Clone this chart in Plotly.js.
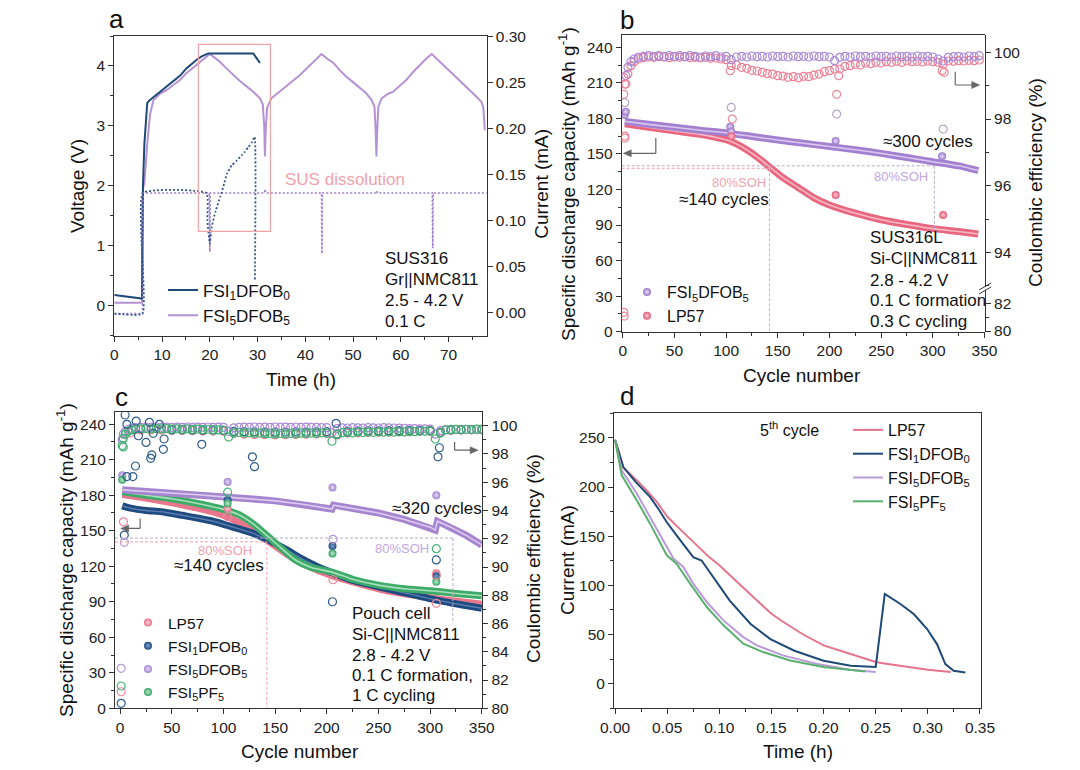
<!DOCTYPE html>
<html><head><meta charset="utf-8">
<script src="https://cdn.plot.ly/plotly-3.0.1.min.js"></script>
<style>html,body{margin:0;padding:0;background:#fff}#chart{width:1080px;height:770px}</style>
</head><body><div id="chart"></div>
<script>
// ---------------- Panel a ----------------
const a_t_fsi1 = [0, 2, 4, 5.8, 6.0, 6.3, 6.9, 7.3, 8.5, 9.6, 11, 12.4, 13.8, 15.1, 16.2, 17.2, 18.3, 19.3, 19.7, 24, 29.1, 29.8, 30.5];
const a_v_fsi1 = [0.18, 0.16, 0.14, 0.12, 2.0, 2.7, 3.38, 3.42, 3.5, 3.57, 3.65, 3.74, 3.84, 3.96, 4.04, 4.1, 4.16, 4.2, 4.21, 4.21, 4.21, 4.13, 4.05];
const a_t_fsi5 = [0, 5.8, 6.0, 6.3, 6.9, 7.5, 8.2, 9.6, 11, 12.4, 13.8, 15.1, 16.5, 17.9, 19, 20, 21, 22.1, 23.5, 24.9, 26.3, 27.7, 29.1, 30.5, 31.1, 31.4, 31.55, 31.7, 32.0, 32.9, 34.5, 36.1, 37.5, 38.9, 40.3, 41.7, 42.6, 43.4, 44.6, 45.9, 47.2, 48.6, 50, 51.4, 52.7, 53.9, 54.5, 54.75, 54.9, 55.05, 55.3, 56, 57.2, 58.4, 59.8, 61.2, 62.6, 64, 65.3, 66.5, 67.7, 68.9, 70.3, 71.7, 73.1, 74.5, 75.7, 76.9, 77.3, 77.6];
const a_v_fsi5 = [0.05, 0.05, 1.95, 2.05, 2.7, 3.2, 3.43, 3.54, 3.6, 3.68, 3.77, 3.88, 3.97, 4.07, 4.14, 4.2, 4.14, 4.07, 3.96, 3.85, 3.75, 3.66, 3.57, 3.46, 3.36, 3.0, 2.49, 2.9, 3.3, 3.46, 3.56, 3.66, 3.75, 3.85, 3.96, 4.07, 4.14, 4.2, 4.12, 4.05, 3.93, 3.82, 3.73, 3.64, 3.55, 3.43, 3.32, 2.9, 2.49, 2.9, 3.32, 3.46, 3.53, 3.57, 3.67, 3.77, 3.9, 4.02, 4.12, 4.2, 4.11, 4.02, 3.91, 3.8, 3.7, 3.6, 3.5, 3.4, 3.3, 2.93];
const a_t_i5 = [0, 5.9, 6.0, 19.9, 20.0, 20.1, 31.5, 31.6, 31.7, 43.4, 43.5, 43.6, 54.9, 55.0, 55.1, 66.6, 66.7, 66.8, 78];
const a_i5 = [-0.001, -0.001, 0.13, 0.13, 0.066, 0.13, 0.13, 0.134, 0.13, 0.13, 0.064, 0.13, 0.13, 0.132, 0.13, 0.13, 0.07, 0.13, 0.13];
const a_t_i1 = [0, 5.9, 6.0, 19.3, 19.5, 20.0, 20.4, 21.2, 22.2, 23.0, 23.6, 24.6, 25.6, 26.7, 27.4, 28.1, 28.8, 29.4, 29.45];
const a_i1 = [-0.001, -0.001, 0.13, 0.13, 0.10, 0.075, 0.093, 0.11, 0.126, 0.14, 0.151, 0.16, 0.165, 0.171, 0.175, 0.18, 0.185, 0.191, 0.0355];

// ---------------- Panel b ----------------
const b_cyc_fd = [2, 25, 50, 75, 100, 125, 150, 175, 200, 225, 250, 275, 300, 325, 344];
const b_cap_fd = [177.5, 175, 172.5, 170, 167.8, 164.8, 161.8, 159, 156.3, 153.5, 150.5, 147, 143.5, 140, 136];
const b_cyc_lp = [2, 25, 50, 75, 90, 100, 110, 120, 130, 142, 155, 170, 185, 200, 225, 250, 275, 300, 325, 344];
const b_cap_lp = [175.5, 172.5, 169.5, 166.5, 164, 162, 158.5, 153.5, 147.5, 139, 130, 121.5, 113, 107, 100, 94.5, 90.5, 87, 84.5, 82.5];
const b_out_fd_cyc = [2, 3, 104, 105, 206, 309];
const b_out_fd_cap = [182.8, 185.7, 173, 169, 161, 148];
const b_out_lp_cyc = [105, 206, 310];
const b_out_lp_cap = [165, 115.4, 98.5];
const b_ce_cyc = [3,5,8,11,15,20,25,30,35,40,45,50,55,60,65,70,75,80,85,90,95,100,105,110,115,120,125,130,135,140,145,150,155,160,165,170,175,180,185,190,195,200,205,210,215,220,225,230,235,240,245,250,255,260,265,270,275,280,285,290,295,300,305,310,315,320,325,330,335,340,345];
const b_ce_fd = [99.3, 99.55, 99.72, 99.8, 99.85,
 99.88, 99.9, 99.88, 99.9, 99.87, 99.9, 99.88, 99.9, 99.87, 99.9, 99.88, 99.86, 99.89, 99.87, 99.9, 99.86, 99.88,
 99.78, 99.86, 99.88, 99.86, 99.89, 99.87, 99.88, 99.86, 99.89, 99.87, 99.88, 99.86, 99.89, 99.87, 99.88, 99.86, 99.89, 99.87, 99.88, 99.86,
 99.75, 99.85, 99.88, 99.86, 99.89, 99.87, 99.88, 99.86, 99.89, 99.87, 99.88, 99.86, 99.89, 99.87, 99.88, 99.86, 99.89, 99.87, 99.88, 99.86,
 99.8, 99.74, 99.85, 99.87, 99.88, 99.86, 99.89, 99.87, 99.9];
const b_ce_lp = [99.05, 99.35, 99.6, 99.72, 99.8,
 99.84, 99.86, 99.85, 99.87, 99.86, 99.84, 99.86, 99.85, 99.87, 99.84, 99.85, 99.83, 99.85, 99.82, 99.83, 99.8, 99.78,
 99.6, 99.62, 99.55, 99.52, 99.46, 99.44, 99.4, 99.36, 99.35, 99.3, 99.29, 99.25, 99.27, 99.24, 99.28, 99.27, 99.32, 99.35, 99.42, 99.45,
 99.5, 99.5, 99.58, 99.6, 99.64, 99.62, 99.68, 99.66, 99.7, 99.68, 99.72, 99.7, 99.73, 99.7, 99.74, 99.72, 99.73, 99.71, 99.74, 99.72,
 99.7, 99.65, 99.74, 99.73, 99.75, 99.74, 99.76, 99.75, 99.77];
const b_ceout_lp_cyc = [1, 1, 2, 2, 2, 104, 106, 207, 209, 309, 311];
const b_ceout_lp = [99.25, 98.74, 99.05, 97.49, 97.43, 99.45, 98.0, 98.74, 99.3, 99.45, 99.4];
const b_ceout_fd_cyc = [2, 105, 207, 310];
const b_ceout_fd = [98.49, 98.35, 98.15, 97.7];
const b_celow_cyc = [1, 1.5];
const b_celow = [81.35, 81.08];

// ---------------- Panel c ----------------
const c_cyc_fd = [2, 25, 50, 75, 100, 125, 150, 175, 200, 205, 206.5, 225, 250, 275, 300, 305, 307, 320, 335, 350];
const c_cap_fd = [184.5, 183.3, 182, 180.3, 178.6, 177, 175.2, 172.5, 169.3, 168.3, 171.6, 169, 165, 159.5, 153, 150.5, 158, 153, 146, 138];
const c_cyc_pf = [2, 25, 50, 75, 100, 115, 130, 142, 155, 170, 185, 205, 225, 250, 275, 300, 325, 350];
const c_cap_pf = [182.8, 180, 177, 173, 168, 163.5, 155, 146, 136, 125, 119, 115, 109, 104, 101, 99.3, 97, 95];
const c_cyc_f1 = [2, 10, 25, 40, 60, 77, 90, 103, 115, 129, 140, 150, 163, 175, 190, 205, 225, 250, 275, 306, 330, 350];
const c_cap_f1 = [171, 169, 167, 166, 163, 160.3, 158, 154.7, 151.5, 147.7, 143.5, 139.2, 133, 126.6, 120, 114.5, 108, 102.6, 97.5, 91.4, 87.5, 84.5];
const c_cyc_lp = [2, 25, 50, 75, 100, 125, 142, 160, 180, 205, 250, 300, 350];
const c_cap_lp = [180.5, 177.5, 173.5, 169, 163, 152, 142, 131, 121, 112, 101, 93.5, 88];
const c_out_fd_cyc = [2, 104, 205.5, 306], c_out_fd = [196.9, 191.2, 186.5, 180];
const c_out_pf_cyc = [2, 104, 205.5, 306], c_out_pf = [193, 173, 130.8, 106.8];
const c_out_f1_cyc = [104, 205.5, 306], c_out_f1 = [175.8, 137, 111.6];
const c_out_lp_cyc = [104, 306], c_out_lp = [168.8, 114];
const c_ce_cyc = [2,3,5,8,11,15,20,25,30,35,40,45,50,55,60,65,70,75,80,85,90,95,100,105,110,115,120,125,130,135,140,145,150,155,160,165,170,175,180,185,190,195,200,205,210,215,220,225,230,235,240,245,250,255,260,265,270,275,280,285,290,295,300,305,310,315,320,325,330,335,340,345,350];
const c_ce_pf = [98.6, 99.1, 99.4, 99.6, 99.7, 99.75,
 99.78, 99.8, 99.78, 99.8, 99.77, 99.79, 99.76, 99.78, 99.75, 99.77, 99.74, 99.76, 99.73, 99.75, 99.72, 99.7, 99.68,
 99.2, 99.5, 99.52, 99.48, 99.5, 99.46, 99.48, 99.44, 99.46, 99.42, 99.45, 99.43, 99.46, 99.44, 99.47, 99.45, 99.48, 99.46, 99.5, 99.48,
 98.9, 99.4, 99.5, 99.52, 99.5, 99.54, 99.52, 99.55, 99.53, 99.56, 99.54, 99.57, 99.55, 99.58, 99.56, 99.6, 99.58, 99.61, 99.6, 99.62,
 99.06, 99.5, 99.7, 99.72, 99.74, 99.72, 99.75, 99.73, 99.76, 99.75];
const c_ce_fd = [99.0, 99.4, 99.6, 99.75, 99.82, 99.86,
 99.88, 99.9, 99.88, 99.91, 99.89, 99.9, 99.88, 99.9, 99.89, 99.91, 99.88, 99.9, 99.89, 99.91, 99.88, 99.9, 99.89,
 99.6, 99.85, 99.88, 99.9, 99.89, 99.91, 99.88, 99.9, 99.89, 99.91, 99.88, 99.9, 99.89, 99.91, 99.88, 99.9, 99.89, 99.88, 99.87, 99.86,
 99.5, 99.8, 99.85, 99.84, 99.86, 99.85, 99.84, 99.86, 99.85, 99.84, 99.86, 99.85, 99.84, 99.83, 99.82, 99.8, 99.8, 99.78, 99.78, 99.76,
 99.4, 99.65, 99.72, 99.74, 99.72, 99.75, 99.73, 99.74, 99.72, 99.73];
const c_ce_cyc_lp = [10,20,30,40,50,60,70,80,90,100,110,120,130,140,150,160,170,180,190,200,210,220,230,240,250,260,270,280,290,300,310,320,330,340,350];
const c_ce_lp = [99.5, 99.7, 99.72, 99.7, 99.68, 99.66, 99.65, 99.63, 99.62, 99.6, 99.45, 99.4, 99.38, 99.36, 99.35, 99.36, 99.38, 99.4, 99.42, 99.44, 99.35, 99.48, 99.5, 99.52, 99.54, 99.55, 99.56, 99.58, 99.6, 99.6, 99.55, 99.68, 99.7, 99.72, 99.72];
const c_ce_cyc_f1 = [50,60,70,80,90,100,110,120,130,140,150,160,170,180,190,200,210,220,230,240,250,260,270,280,290,300,310,320,330,340,350];
const c_ce_f1 = [99.7, 99.72, 99.7, 99.68, 99.7, 99.68, 99.6, 99.58, 99.56, 99.55, 99.54, 99.55, 99.56, 99.55, 99.57, 99.58, 99.4, 99.6, 99.62, 99.63, 99.64, 99.65, 99.66, 99.67, 99.68, 99.66, 99.5, 99.7, 99.72, 99.73, 99.74];
const c_ceout_f1_cyc = [1, 4.8, 6.5, 15.5, 17.7, 25, 28.3, 30.6, 29.6, 32, 38, 42.5, 41.8, 14.8, 6.5, 12.3, 79, 128, 130, 209, 307.6, 309, 4, 205.5, 306];
const c_ceout_f1 = [80.35, 100.76, 100.1, 100.33, 99.29, 98.82, 100.24, 97.93, 97.69, 99.46, 100.1, 99.06, 98.33, 97.15, 96.4, 96.4, 98.68, 97.8, 97.1, 100.17, 97.8, 98.44, 92.26, 87.54, 90.5];
const c_ceout_lp_cyc = [1, 3.2, 104, 206, 306, 306], c_ceout_lp = [81.17, 93.2, 93.56, 89.1, 89.43, 87.43];
const c_ceout_fd_cyc = [1, 4, 206], c_ceout_fd = [82.83, 91.75, 91.96];
const c_ceout_pf_cyc = [1, 3, 104, 306], c_ceout_pf = [81.58, 98.5, 95.3, 91.3];

// ---------------- Panel d ----------------
const d_t_lp = [0, 0.008, 0.0207, 0.03, 0.04, 0.05, 0.06, 0.07, 0.08, 0.09, 0.1, 0.11, 0.12, 0.13, 0.14, 0.15, 0.16, 0.18, 0.2, 0.22, 0.25, 0.26, 0.28, 0.3, 0.322];
const d_i_lp = [248, 220, 207, 197, 185, 170, 159.5, 149.3, 139, 129, 120.5, 110.4, 100, 90, 80.8, 71.2, 63.8, 50.3, 39, 32.3, 22.1, 20.4, 17, 14.3, 12];
const d_t_f1 = [0, 0.008, 0.02, 0.0335, 0.0415, 0.0495, 0.059, 0.075, 0.083, 0.094, 0.11, 0.13, 0.149, 0.172, 0.2, 0.226, 0.25, 0.2587, 0.2737, 0.2865, 0.2993, 0.3088, 0.3168, 0.3248, 0.336];
const d_i_f1 = [248, 220, 205, 190, 178, 164.4, 150.8, 128.7, 125.3, 108.3, 84.5, 60.7, 45.4, 33.5, 23.3, 18.2, 17.1, 91.3, 81.1, 70.9, 55.6, 40.3, 19.9, 13.1, 11.4];
const d_t_fd = [0, 0.0064, 0.0208, 0.0336, 0.0464, 0.056, 0.0655, 0.075, 0.088, 0.104, 0.123, 0.136, 0.161, 0.193, 0.225, 0.25];
const d_i_fd = [248, 217, 193.4, 169.7, 145.9, 127.3, 118.8, 101.8, 83.1, 64.4, 47.4, 39, 28.8, 20.4, 14.3, 11.9];
const d_t_pf = [0, 0.0064, 0.0208, 0.0336, 0.0496, 0.059, 0.072, 0.088, 0.104, 0.123, 0.142, 0.168, 0.2, 0.24];
const d_i_pf = [248, 211.9, 186.6, 162.8, 130.6, 122.1, 101.8, 78, 59.4, 40.7, 32.2, 23.7, 16.9, 12.5];

// ---------------- styling ----------------
const FONT = 'Liberation Sans, Arial, Helvetica, sans-serif';
const W = 1080, H = 770;
const fx = p => p / W, fy = p => 1 - p / H;
const NAVY = '#1f4a77', LAV = '#b592d3', PURP = '#a585cf', PINK = '#e8718a', GREEN = '#45ad6c';
const N_LP57 = 'LP57', N_F1 = 'FSI<sub>1</sub>DFOB<sub>0</sub>', N_FD = 'FSI<sub>5</sub>DFOB<sub>5</sub>', N_PF = 'FSI<sub>5</sub>PF<sub>5</sub>';

const traces = [];
function line(x, y, xa, ya, color, width, extra) {
  return Object.assign({x, y, xaxis: xa, yaxis: ya, type: 'scatter', mode: 'lines', line: {color, width}, showlegend: false, hoverinfo: 'skip'}, extra || {});
}
function rings(x, y, xa, ya, color, extra) {
  return Object.assign({x, y, xaxis: xa, yaxis: ya, type: 'scatter', mode: 'markers', marker: {symbol: 'circle-open', size: 8, color, line: {width: 1.2, color}}, showlegend: false, hoverinfo: 'skip'}, extra || {});
}
function spheres(x, y, xa, ya, color, light, extra) {
  return Object.assign({x, y, xaxis: xa, yaxis: ya, type: 'scatter', mode: 'markers', marker: {symbol: 'circle', size: 8, color, gradient: {type: 'radial', color: light}, line: {width: 0}}, showlegend: false, hoverinfo: 'skip'}, extra || {});
}

// a
traces.push(line(a_t_fsi5, a_v_fsi5, 'x', 'y', LAV, 2, {name: N_FD, showlegend: true, legend: 'legend', legendrank: 2}));
traces.push(line(a_t_fsi1, a_v_fsi1, 'x', 'y', NAVY, 2, {name: N_F1, showlegend: true, legend: 'legend', legendrank: 1}));
traces.push(line(a_t_i5, a_i5, 'x', 'y2', '#9d7fc9', 1.6, {line: {color: '#9d7fc9', width: 1.6, dash: '2px,2px'}}));
traces.push(line(a_t_i1, a_i1, 'x', 'y2', '#34578a', 1.8, {line: {color: '#34578a', width: 1.8, dash: '2px,2px', shape: 'spline', smoothing: 0.4}}));

// b
traces.push(rings(b_ce_cyc, b_ce_lp, 'x2', 'y4', '#ec8096'));
traces.push(rings(b_ce_cyc, b_ce_fd, 'x2', 'y4', '#a98ad6'));
traces.push(rings(b_ceout_lp_cyc, b_ceout_lp, 'x2', 'y4', '#ec8a9c'));
traces.push(rings(b_ceout_fd_cyc, b_ceout_fd, 'x2', 'y4', '#b5a6c6'));
traces.push(rings(b_celow_cyc, b_celow, 'x2', 'y5', '#ec8a9c'));
traces.push(line(b_cyc_lp, b_cap_lp, 'x2', 'y3', PINK, 7, {line: {color: '#e8677f', width: 7, shape: 'spline', smoothing: 0.6}}));
traces.push(line(b_cyc_lp, b_cap_lp, 'x2', 'y3', '#f6b9c6', 1.6, {line: {color: '#f6b9c6', width: 1.6, shape: 'spline', smoothing: 0.6}}));
traces.push(line(b_cyc_fd, b_cap_fd, 'x2', 'y3', PURP, 7, {line: {color: '#a27fcf', width: 7, shape: 'spline', smoothing: 0.6}}));
traces.push(line(b_cyc_fd, b_cap_fd, 'x2', 'y3', '#d8c6ee', 1.6, {line: {color: '#d8c6ee', width: 1.6, shape: 'spline', smoothing: 0.6}}));
traces.push(spheres(b_out_fd_cyc, b_out_fd_cap, 'x2', 'y3', '#9b78c8', '#e6dbf5', {name: N_FD, showlegend: true, legend: 'legend2', legendrank: 1}));
traces.push(spheres(b_out_lp_cyc, b_out_lp_cap, 'x2', 'y3', '#e35c78', '#f8c8d2', {name: N_LP57, showlegend: true, legend: 'legend2', legendrank: 2}));

// c
traces.push(rings(c_ce_cyc_lp, c_ce_lp, 'x3', 'y7', '#ec8096'));
traces.push(rings(c_ce_cyc_f1, c_ce_f1, 'x3', 'y7', '#2f5d8a'));
traces.push(rings(c_ce_cyc, c_ce_fd, 'x3', 'y7', '#a98ad6'));
traces.push(rings(c_ce_cyc, c_ce_pf, 'x3', 'y7', '#3fb070'));
traces.push(rings(c_ceout_f1_cyc, c_ceout_f1, 'x3', 'y7', '#2f5d8a'));
traces.push(rings(c_ceout_lp_cyc, c_ceout_lp, 'x3', 'y7', '#ec8a9c'));
traces.push(rings(c_ceout_fd_cyc, c_ceout_fd, 'x3', 'y7', '#b49ad8'));
traces.push(rings(c_ceout_pf_cyc, c_ceout_pf, 'x3', 'y7', '#48b478'));
traces.push(line(c_cyc_lp, c_cap_lp, 'x3', 'y6', PINK, 7, {line: {color: '#e8778e', width: 7, shape: 'spline', smoothing: 0.6}}));
traces.push(line(c_cyc_f1, c_cap_f1, 'x3', 'y6', NAVY, 7, {line: {color: '#1f4a80', width: 7, shape: 'spline', smoothing: 0.6}}));
traces.push(line(c_cyc_f1, c_cap_f1, 'x3', 'y6', '#5a7fb0', 1.4, {line: {color: '#5a7fb0', width: 1.4, shape: 'spline', smoothing: 0.6}}));
traces.push(line(c_cyc_pf, c_cap_pf, 'x3', 'y6', GREEN, 7, {line: {color: '#3fab68', width: 7, shape: 'spline', smoothing: 0.6}}));
traces.push(line(c_cyc_pf, c_cap_pf, 'x3', 'y6', '#a8e0bd', 1.6, {line: {color: '#a8e0bd', width: 1.6, shape: 'spline', smoothing: 0.6}}));
traces.push(line(c_cyc_fd, c_cap_fd, 'x3', 'y6', PURP, 7, {line: {color: '#a685cf', width: 7}}));
traces.push(line(c_cyc_fd, c_cap_fd, 'x3', 'y6', '#dccbf0', 1.6, {line: {color: '#dccbf0', width: 1.6}}));
traces.push(spheres(c_out_lp_cyc, c_out_lp, 'x3', 'y6', '#e8718a', '#fad2da', {name: N_LP57, showlegend: true, legend: 'legend3', legendrank: 1}));
traces.push(spheres(c_out_f1_cyc, c_out_f1, 'x3', 'y6', '#1d4a82', '#7fa0cc', {name: N_F1, showlegend: true, legend: 'legend3', legendrank: 2}));
traces.push(spheres(c_out_fd_cyc, c_out_fd, 'x3', 'y6', '#a384cf', '#e6dbf5', {name: N_FD, showlegend: true, legend: 'legend3', legendrank: 3}));
traces.push(spheres(c_out_pf_cyc, c_out_pf, 'x3', 'y6', '#34a463', '#bfe8cf', {name: N_PF, showlegend: true, legend: 'legend3', legendrank: 4}));

// d
traces.push(line(d_t_lp, d_i_lp, 'x4', 'y8', '#e5758c', 2, {name: N_LP57, showlegend: true, legend: 'legend4', legendrank: 1}));
traces.push(line(d_t_f1, d_i_f1, 'x4', 'y8', NAVY, 2, {name: N_F1, showlegend: true, legend: 'legend4', legendrank: 2}));
traces.push(line(d_t_fd, d_i_fd, 'x4', 'y8', '#bb9ad9', 2, {name: N_FD, showlegend: true, legend: 'legend4', legendrank: 3}));
traces.push(line(d_t_pf, d_i_pf, 'x4', 'y8', '#5bb06e', 2, {name: N_PF, showlegend: true, legend: 'legend4', legendrank: 4}));

// axes
const AXC = '#333';
function mnr(d) { return {dtick: d, ticks: 'outside', ticklen: 3, tickwidth: 1, tickcolor: AXC, showgrid: false}; }
function ax(extra) {
  return Object.assign({showline: true, linecolor: AXC, linewidth: 1, ticks: 'outside', ticklen: 5, tickwidth: 1, tickcolor: AXC,
    showgrid: false, zeroline: false, tickfont: {family: FONT, size: 15.5, color: '#222'}, fixedrange: true}, extra);
}
function leg(x, y, size) {
  return {x: fx(x), y: fy(y), xanchor: 'left', yanchor: 'top', bgcolor: 'rgba(0,0,0,0)', borderwidth: 0,
    font: {family: FONT, size: size, color: '#111'}, tracegroupgap: 0, traceorder: 'normal'};
}

const ann = [];
function T(x, y, text, opts) { ann.push(Object.assign({x, y, text, showarrow: false, font: {family: FONT, size: 17, color: '#111'}}, opts)); }
function P(x, y, text, size, angle) { T(fx(x), fy(y), text, {xref: 'paper', yref: 'paper', xanchor: 'center', yanchor: 'middle', textangle: angle || 0, font: {family: FONT, size: size, color: '#111'}}); }
function block(xref, yref, x, ys, lines) { lines.forEach((s, i) => T(x, ys[i], s, {xref, yref, xanchor: 'left', yanchor: 'middle'})); }

// panel letters
P(116, 19.5, 'a', 26); P(627, 20, 'b', 26); P(121, 396.5, 'c', 26); P(627, 396, 'd', 26);
// axis titles
P(300.7, 380, 'Time (h)', 19); P(78, 186, 'Voltage (V)', 19, -90); P(541.7, 184, 'Current (mA)', 19, -90);
P(801.7, 376, 'Cycle number', 19); P(567, 184, 'Specific discharge capacity (mAh g<sup>-1</sup>)', 19, -90); P(1035, 183, 'Coulombic efficiency (%)', 19, -90);
P(300, 751.7, 'Cycle number', 19); P(65, 560, 'Specific discharge capacity (mAh g<sup>-1</sup>)', 19, -90); P(533, 559, 'Coulombic efficiency (%)', 19, -90);
P(798, 751.7, 'Time (h)', 19); P(567, 560, 'Current (mA)', 19, -90);

// panel a texts
T(48.4, 2.11, 'SUS dissolution', {xref: 'x', yref: 'y', font: {family: FONT, size: 17, color: '#f2a3ab'}});
block('x', 'y', 56.3, [0.79, 0.44, 0.095, -0.255], ['SUS316', 'Gr||NMC811', '2.5 - 4.2 V', '0.1 C']);
// panel b texts
T(295.6, 160.3, '≈300 cycles', {xref: 'x2', yref: 'y3'});
T(112.6, 125.7, '80%SOH', {xref: 'x2', yref: 'y3', font: {family: FONT, size: 13, color: '#f0a2ac'}});
T(98, 111.7, '≈140 cycles', {xref: 'x2', yref: 'y3'});
T(269.4, 130.8, '80%SOH', {xref: 'x2', yref: 'y3', font: {family: FONT, size: 13, color: '#c4a6e4'}});
block('x2', 'y3', 237.4, [79.1, 61.4, 43.6, 26.2, 9.0], ['SUS316L', 'Si-C||NMC811', '2.8 - 4.2 V', '0.1 C formation', '0.3 C cycling']);
// panel c texts
T(306.3, 168.8, '≈320 cycles', {xref: 'x3', yref: 'y6'});
T(101.4, 133.6, '80%SOH', {xref: 'x3', yref: 'y6', font: {family: FONT, size: 13, color: '#f0a2ac'}});
T(95.7, 120.9, '≈140 cycles', {xref: 'x3', yref: 'y6'});
T(272.5, 135.3, '80%SOH', {xref: 'x3', yref: 'y6', font: {family: FONT, size: 13, color: '#c4a6e4'}});
block('x3', 'y6', 222.2, [80.2, 62.7, 45, 27.5, 10.4], ['Pouch cell', 'Si-C||NMC811', '2.8 - 4.2 V', '0.1 C formation,', '1 C cycling']);
// panel d text
T(0.1678, 258.7, '5<sup>th</sup> cycle', {xref: 'x4', yref: 'y8', font: {family: FONT, size: 16, color: '#111'}});

const shapes = [];
function seg(xref, yref, x0, y0, x1, y1, color, dash, w) { shapes.push({type: 'line', xref, yref, x0, y0, x1, y1, line: {color, width: w || 1, dash: dash || 'solid'}}); }
// arrowheads as small triangles (pixel-sized, anchored at the tip)
function head(xref, yref, x, y, dir) {
  const p = dir < 0 ? 'M0,0 L8,3.5 L8,-3.5 Z' : 'M0,0 L-8,3.5 L-8,-3.5 Z';
  shapes.push({type: 'path', xref, yref, xsizemode: 'pixel', ysizemode: 'pixel', xanchor: x, yanchor: y, path: p, fillcolor: '#666', line: {color: '#666', width: 0.5}});
}
// a box
shapes.push({type: 'rect', xref: 'x', yref: 'y', x0: 17.6, x1: 32.7, y0: 1.24, y1: 4.36, line: {color: '#f2a3a6', width: 1.2}});
// b guide lines
const DP = '#f0a0aa', DG = '#b9a9c4', AR = '#666';
seg('x2', 'y3', -1, 137.9, 142, 137.9, DP, '3px,2px');
seg('x2', 'y3', 142, 137.9, 142, 0, DP, '3px,2px');
seg('x2', 'y3', -1, 140, 301.5, 140, DG, '3px,2px');
seg('x2', 'y3', 301.5, 140, 301.5, 86, DG, '3px,2px');
seg('x2', 'y3', 32, 163.5, 32, 150.5, AR, 'solid', 1.2);
seg('x2', 'y3', 32, 150.5, 6, 150.5, AR, 'solid', 1.2);
head('x2', 'y3', 0.5, 150.5, -1);
seg('x2', 'y3', 321.7, 219.4, 321.7, 208.2, AR, 'solid', 1.2);
seg('x2', 'y3', 321.7, 208.2, 340, 208.2, AR, 'solid', 1.2);
head('x2', 'y3', 345.4, 208.2, 1);
// c guide lines
seg('x3', 'y6', -5, 140.6, 142, 140.6, DP, '3px,2px');
seg('x3', 'y6', 142, 140.6, 142, 0, DP, '3px,2px');
seg('x3', 'y6', -5, 143.8, 322, 143.8, DG, '3px,2px');
seg('x3', 'y6', 322, 143.8, 322, 71.7, DG, '3px,2px');
seg('x3', 'y6', 19.3, 160.3, 19.3, 151.9, AR, 'solid', 1.2);
seg('x3', 'y6', 19.3, 151.9, 6, 151.9, AR, 'solid', 1.2);
head('x3', 'y6', 0.5, 151.9, -1);
seg('x3', 'y6', 323.7, 225, 323.7, 218, AR, 'solid', 1.2);
seg('x3', 'y6', 323.7, 218, 341, 218, AR, 'solid', 1.2);
head('x3', 'y6', 346.5, 218, 1);
// axis break marks on b right axis
seg('paper', 'paper', fx(979), fy(290), fx(991), fy(283), '#333', 'solid', 1);
seg('paper', 'paper', fx(979), fy(294), fx(991), fy(287), '#333', 'solid', 1);

const layout = {
  width: W, height: H, margin: {l: 0, r: 0, t: 0, b: 0}, paper_bgcolor: '#fff', plot_bgcolor: 'rgba(0,0,0,0)',
  font: {family: FONT, size: 15.5, color: '#222'}, showlegend: true, hovermode: false,
  xaxis: ax({domain: [fx(114.3), fx(486.7)], range: [0, 78], dtick: 10, minor: mnr(5), anchor: 'y', mirror: true}),
  yaxis: ax({domain: [fy(335.7), fy(36)], range: [-0.5, 4.5], dtick: 1, minor: mnr(0.5), anchor: 'x'}),
  yaxis2: ax({overlaying: 'y', side: 'right', anchor: 'x', range: [-0.025, 0.3005], dtick: 0.05, tickformat: '.2f'}),
  xaxis2: ax({domain: [fx(621.7), fx(985)], range: [-1, 350.5], dtick: 50, minor: mnr(25), anchor: 'y3', mirror: true}),
  yaxis3: ax({domain: [fy(331.7), fy(35)], range: [0, 250.4], dtick: 30, minor: mnr(15), anchor: 'x2'}),
  yaxis4: ax({domain: [fy(286.5), fy(35)], range: [92.98, 100.52], tickmode: 'array', tickvals: [94, 96, 98, 100],
    minor: Object.assign(mnr(1), {tickmode: 'array', tickvals: [93, 95, 97, 99]}), anchor: 'x2', side: 'right'}),
  yaxis5: ax({domain: [fy(331.7), fy(290)], range: [79.95, 82.96], tickmode: 'array', tickvals: [80, 82],
    minor: Object.assign(mnr(1), {tickmode: 'array', tickvals: [81]}), anchor: 'x2', side: 'right'}),
  xaxis3: ax({domain: [fx(115), fx(482.3)], range: [-5, 350.5], dtick: 50, minor: mnr(25), anchor: 'y6', mirror: true}),
  yaxis6: ax({domain: [fy(708.3), fy(412.3)], range: [0, 250], dtick: 30, minor: mnr(15), anchor: 'x3'}),
  yaxis7: ax({overlaying: 'y6', side: 'right', anchor: 'x3', range: [80, 100.95], dtick: 2, minor: mnr(1)}),
  xaxis4: ax({domain: [fx(614), fx(981)], range: [-0.001, 0.351], dtick: 0.05, tickformat: '.2f', minor: mnr(0.025), anchor: 'y8', mirror: true}),
  yaxis8: ax({domain: [fy(708.3), fy(413.3)], range: [-25, 275], dtick: 50, minor: mnr(25), anchor: 'x4', mirror: true}),
  legend: leg(163, 272.5, 17),
  legend2: leg(627, 275, 16),
  legend3: leg(128, 606, 15.5),
  legend4: leg(848, 413, 16),
  annotations: ann,
  shapes: shapes
};

Plotly.newPlot('chart', traces, layout, {staticPlot: true, displayModeBar: false});
</script></body></html>
